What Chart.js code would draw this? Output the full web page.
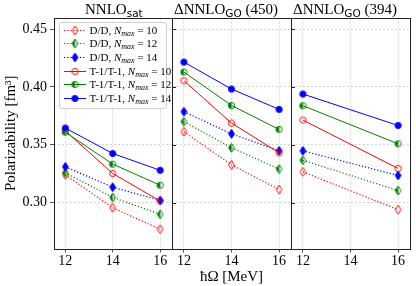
<!DOCTYPE html>
<html>
<head>
<meta charset="utf-8">
<script src="https://cdn.jsdelivr.net/npm/chart.js"></script>
<style>
  body { margin: 0; background: #fff; }
  #wrap { position: relative; width: 416px; height: 286px; overflow: hidden; }
  #wrap canvas.panel { position: absolute; left: 0; top: 0; }
  .ttl { position: absolute; top: 0; white-space: nowrap; font: 15px "Liberation Serif", serif; line-height: 18px; color: #000; }
  .ttl span { font: 10.5px "DejaVu Sans", sans-serif; position: relative; top: 3px; }
  #legend { position: absolute; left: 58.5px; top: 21.5px; width: 108px; height: 87px; box-sizing: border-box;
            border: 1px solid #d0d0d0; border-radius: 3px; background: rgba(255,255,255,0.8); }
  .row { position: absolute; left: 0; height: 12px; white-space: nowrap; font: 11px "Liberation Serif", serif; line-height: 12px; }
  .row canvas { position: absolute; left: 2px; top: 0; }
  .row .lab { position: absolute; left: 30px; top: 0; }
  .row sub { font-size: 8px; vertical-align: -2px; line-height: 0; }
</style>
</head>
<body>
<div id="wrap">
  <canvas class="panel" id="c1" width="416" height="286"></canvas>
  <canvas class="panel" id="c2" width="416" height="286"></canvas>
  <canvas class="panel" id="c3" width="416" height="286"></canvas>
  <div class="ttl" style="left:85px">NNLO<span>sat</span></div>
  <div class="ttl" style="left:174px">&Delta;NNLO<span>GO</span> (450)</div>
  <div class="ttl" style="left:293px">&Delta;NNLO<span>GO</span> (394)</div>
  <div id="legend"></div>
</div>
<script>
// hbar*omega values
const hw = [12, 14, 16];
const hw394 = [12, 16];
const xTicks = [12, 14, 16];
const yTicks = [0.30, 0.35, 0.40, 0.45];

// NNLOsat
const satDD10 = [0.3241, 0.2956, 0.2771];
const satDD12 = [0.3258, 0.3046, 0.2900];
const satDD14 = [0.3310, 0.3134, 0.3020];
const satT10 = [0.3620, 0.3252, 0.3015];
const satT12 = [0.3609, 0.3333, 0.3151];
const satT14 = [0.3645, 0.3425, 0.3280];

// DeltaNNLOGO(450)
const go450DD10 = [0.3613, 0.3327, 0.3114];
const go450DD12 = [0.3700, 0.3474, 0.3291];
const go450DD14 = [0.3786, 0.3595, 0.3448];
const go450T10 = [0.4054, 0.3688, 0.3431];
const go450T12 = [0.4129, 0.3840, 0.3633];
const go450T14 = [0.4215, 0.3982, 0.3806];

// DeltaNNLOGO(394)
const go394DD10 = [0.3266, 0.2940];
const go394DD12 = [0.3367, 0.3105];
const go394DD14 = [0.3448, 0.3235];
const go394T10 = [0.3714, 0.3296];
const go394T12 = [0.3838, 0.3509];
const go394T14 = [0.3939, 0.3667];

const schemes = ['D/D', 'T-1/T-1'];
const nmax = [10, 12, 14];
const colors = ['red', 'green', 'blue'];
const fills = ['none', 'left', 'full'];

Chart.defaults.font.family = '"Liberation Serif", serif';
Chart.defaults.color = '#000';

function marker(shape, color, fill) {
  const c = document.createElement('canvas');
  const w = 11, h = 13;
  c.width = w; c.height = h;
  const g = c.getContext('2d');
  const cx = w / 2, cy = h / 2;
  function path() {
    g.beginPath();
    if (shape === 'o') g.arc(cx, cy, 3.1, 0, 2 * Math.PI);
    else {
      g.moveTo(cx, cy - 4.5); g.lineTo(cx + 2.9, cy);
      g.lineTo(cx, cy + 4.5); g.lineTo(cx - 2.9, cy); g.closePath();
    }
  }
  if (fill === 'full') { path(); g.fillStyle = color; g.fill(); }
  if (fill === 'left') {
    g.save(); path(); g.clip();
    g.fillStyle = color; g.fillRect(0, 0, cx, h);
    g.restore();
  }
  path(); g.strokeStyle = color; g.lineWidth = 1; g.stroke();
  return c;
}

function series(xs, dd, tt) {
  const out = [];
  [dd, tt].forEach((group, s) => {
    group.forEach((vals, k) => {
      out.push({
        label: schemes[s] + ', Nmax = ' + nmax[k],
        data: xs.map((x, i) => ({ x: x, y: vals[i] })),
        borderColor: colors[k],
        borderWidth: s === 0 ? 1.2 : 1,
        borderDash: s === 0 ? [1.2, 2] : [],
        pointStyle: marker(s === 0 ? 'd' : 'o', colors[k], fills[k]),
        pointRadius: 4,
        tension: 0,
        fill: false,
        order: 10 - (s * 3 + k)
      });
    });
  });
  return out;
}

const frame = {
  id: 'frame',
  afterDraw(chart) {
    const { ctx, chartArea: a } = chart;
    ctx.save();
    ctx.strokeStyle = '#222';
    ctx.lineWidth = 1;
    const l = Math.round(a.left) + 0.5, t = Math.round(a.top) + 0.5;
    const r = Math.round(a.right) + 0.5, b = Math.round(a.bottom) + 0.5;
    ctx.strokeRect(l, t, r - l, b - t);
    if (chart.config.options.innerTicks) {
      const y = chart.scales.y;
      ctx.beginPath();
      y.ticks.forEach(tk => {
        const py = Math.round(y.getPixelForValue(tk.value)) + 0.5;
        ctx.moveTo(l, py); ctx.lineTo(l + 3.5, py);
      });
      ctx.stroke();
    }
    ctx.restore();
  }
};

function makePanel(id, left, right, datasets, first, xTitle) {
  return new Chart(document.getElementById(id), {
    type: 'line',
    data: { datasets: datasets },
    plugins: [frame],
    options: {
      responsive: false,
      animation: false,
      devicePixelRatio: 1,
      innerTicks: !first,
      layout: { padding: { left: first ? 0 : left, right: 416 - right, top: 17.5, bottom: 0 } },
      plugins: { legend: { display: false }, tooltip: { enabled: false } },
      scales: {
        x: {
          type: 'linear', min: 11.5, max: 16.5,
          afterBuildTicks: s => { s.ticks = xTicks.map(v => ({ value: v })); },
          afterFit: s => { s.height = 37; },
          border: { display: false, dash: [2, 2] },
          grid: { color: '#cccccc', lineWidth: 0.8, tickColor: '#222', tickLength: 3.5, tickBorderDash: [] },
          ticks: { font: { size: 14 }, color: '#000', padding: 0, maxRotation: 0, autoSkip: false,
                   callback: v => String(v) },
          title: { display: !!xTitle, text: xTitle || '', font: { size: 15 }, color: '#000', padding: { top: 0, bottom: 0 } }
        },
        y: {
          type: 'linear', min: 0.26, max: 0.46,
          afterBuildTicks: s => { s.ticks = yTicks.map(v => ({ value: v })); },
          afterFit: s => { s.width = first ? left : 0; },
          border: { display: false, dash: [2, 2] },
          grid: { color: '#cccccc', lineWidth: 0.8, tickColor: '#222', tickLength: 3.5, tickBorderDash: [], drawTicks: first },
          ticks: { display: first, font: { size: 14 }, color: '#000', padding: 3,
                   callback: v => v.toFixed(2) },
          title: { display: first, text: 'Polarizability [fm³]', font: { size: 15 }, color: '#000', padding: { top: 2, bottom: 0 } }
        }
      }
    }
  });
}

makePanel('c1', 53.5, 172, series(hw, [satDD10, satDD12, satDD14], [satT10, satT12, satT14]), true, null);
makePanel('c2', 172, 291, series(hw, [go450DD10, go450DD12, go450DD14], [go450T10, go450T12, go450T14]), false, 'ħΩ [MeV]');
makePanel('c3', 291, 410, series(hw394, [go394DD10, go394DD12, go394DD14], [go394T10, go394T12, go394T14]), false, null);

// legend
const leg = document.getElementById('legend');
schemes.forEach((sc, s) => {
  nmax.forEach((n, k) => {
    const i = s * 3 + k;
    const row = document.createElement('div');
    row.className = 'row';
    row.style.top = (1 + i * 13.7) + 'px';
    const c = document.createElement('canvas');
    c.width = 26; c.height = 12;
    const g = c.getContext('2d');
    g.strokeStyle = colors[k];
    g.lineWidth = s === 0 ? 1.2 : 1;
    g.setLineDash(s === 0 ? [1.2, 2] : []);
    g.beginPath(); g.moveTo(2, 6.5); g.lineTo(24, 6.5); g.stroke();
    const m = marker(s === 0 ? 'd' : 'o', colors[k], fills[k]);
    g.drawImage(m, 13 - m.width / 2, 6.5 - m.height / 2);
    row.appendChild(c);
    const lab = document.createElement('span');
    lab.className = 'lab';
    lab.innerHTML = sc + ', <i>N</i><sub><i>max</i></sub> = ' + n;
    row.appendChild(lab);
    leg.appendChild(row);
  });
});
</script>
</body>
</html>
